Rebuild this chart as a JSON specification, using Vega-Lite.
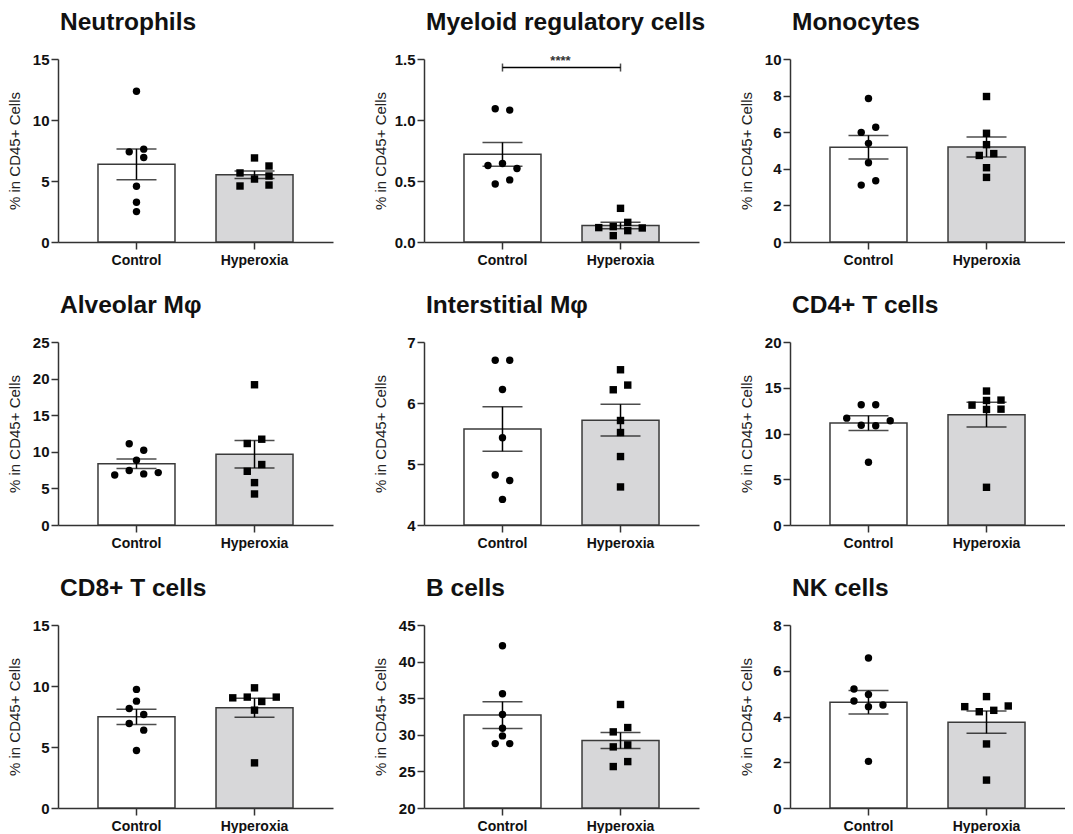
{
"$schema": "https://vega.github.io/schema/vega-lite/v6.json",
"background": "white",
"padding": {"left": 7, "top": 9, "right": 0, "bottom": 0},
"datasets": {
"cells": [
{"p":"Neutrophils","g":"Control","v":12.35,"lane":0},{"p":"Neutrophils","g":"Control","v":7.39,"lane":-1},{"p":"Neutrophils","g":"Control","v":7.61,"lane":1},{"p":"Neutrophils","g":"Control","v":6.93,"lane":1},{"p":"Neutrophils","g":"Control","v":4.57,"lane":0},{"p":"Neutrophils","g":"Control","v":3.26,"lane":0},{"p":"Neutrophils","g":"Control","v":2.49,"lane":0},
{"p":"Neutrophils","g":"Hyperoxia","v":6.89,"lane":0},{"p":"Neutrophils","g":"Hyperoxia","v":5.66,"lane":-2},{"p":"Neutrophils","g":"Hyperoxia","v":6.23,"lane":2},{"p":"Neutrophils","g":"Hyperoxia","v":5.16,"lane":0},{"p":"Neutrophils","g":"Hyperoxia","v":4.59,"lane":-2},{"p":"Neutrophils","g":"Hyperoxia","v":5.41,"lane":2},{"p":"Neutrophils","g":"Hyperoxia","v":4.67,"lane":2},
{"p":"Myeloid","g":"Control","v":1.092,"lane":-1},{"p":"Myeloid","g":"Control","v":1.081,"lane":1},{"p":"Myeloid","g":"Control","v":0.627,"lane":-2},{"p":"Myeloid","g":"Control","v":0.643,"lane":0},{"p":"Myeloid","g":"Control","v":0.602,"lane":2},{"p":"Myeloid","g":"Control","v":0.476,"lane":-1},{"p":"Myeloid","g":"Control","v":0.509,"lane":1},
{"p":"Myeloid","g":"Hyperoxia","v":0.276,"lane":0},{"p":"Myeloid","g":"Hyperoxia","v":0.118,"lane":-3},{"p":"Myeloid","g":"Hyperoxia","v":0.126,"lane":-1},{"p":"Myeloid","g":"Hyperoxia","v":0.161,"lane":1},{"p":"Myeloid","g":"Hyperoxia","v":0.115,"lane":3},{"p":"Myeloid","g":"Hyperoxia","v":0.052,"lane":-1},{"p":"Myeloid","g":"Hyperoxia","v":0.093,"lane":1},
{"p":"Monocytes","g":"Control","v":7.84,"lane":0},{"p":"Monocytes","g":"Control","v":5.99,"lane":-1},{"p":"Monocytes","g":"Control","v":6.27,"lane":1},{"p":"Monocytes","g":"Control","v":5.39,"lane":0},{"p":"Monocytes","g":"Control","v":4.33,"lane":0},{"p":"Monocytes","g":"Control","v":3.11,"lane":-1},{"p":"Monocytes","g":"Control","v":3.35,"lane":1},
{"p":"Monocytes","g":"Hyperoxia","v":7.95,"lane":0},{"p":"Monocytes","g":"Hyperoxia","v":5.94,"lane":0},{"p":"Monocytes","g":"Hyperoxia","v":5.32,"lane":0},{"p":"Monocytes","g":"Hyperoxia","v":4.73,"lane":-1},{"p":"Monocytes","g":"Hyperoxia","v":4.83,"lane":1},{"p":"Monocytes","g":"Hyperoxia","v":4.06,"lane":0},{"p":"Monocytes","g":"Hyperoxia","v":3.53,"lane":0},
{"p":"Alveolar","g":"Control","v":11.09,"lane":-1},{"p":"Alveolar","g":"Control","v":10.22,"lane":1},{"p":"Alveolar","g":"Control","v":8.85,"lane":0},{"p":"Alveolar","g":"Control","v":6.84,"lane":-3},{"p":"Alveolar","g":"Control","v":7.44,"lane":-1},{"p":"Alveolar","g":"Control","v":6.98,"lane":1},{"p":"Alveolar","g":"Control","v":7.16,"lane":3},
{"p":"Alveolar","g":"Hyperoxia","v":19.16,"lane":0},{"p":"Alveolar","g":"Hyperoxia","v":11.13,"lane":-1},{"p":"Alveolar","g":"Hyperoxia","v":11.72,"lane":1},{"p":"Alveolar","g":"Hyperoxia","v":8.26,"lane":1},{"p":"Alveolar","g":"Hyperoxia","v":7.34,"lane":-1},{"p":"Alveolar","g":"Hyperoxia","v":5.79,"lane":0},{"p":"Alveolar","g":"Hyperoxia","v":4.24,"lane":0},
{"p":"Interstitial","g":"Control","v":6.70,"lane":-1},{"p":"Interstitial","g":"Control","v":6.70,"lane":1},{"p":"Interstitial","g":"Control","v":6.22,"lane":0},{"p":"Interstitial","g":"Control","v":5.43,"lane":0},{"p":"Interstitial","g":"Control","v":4.82,"lane":-1},{"p":"Interstitial","g":"Control","v":4.73,"lane":1},{"p":"Interstitial","g":"Control","v":4.42,"lane":0},
{"p":"Interstitial","g":"Hyperoxia","v":6.545,"lane":0},{"p":"Interstitial","g":"Hyperoxia","v":6.217,"lane":-1},{"p":"Interstitial","g":"Hyperoxia","v":6.294,"lane":1},{"p":"Interstitial","g":"Hyperoxia","v":5.713,"lane":0},{"p":"Interstitial","g":"Hyperoxia","v":5.516,"lane":0},{"p":"Interstitial","g":"Hyperoxia","v":5.122,"lane":0},{"p":"Interstitial","g":"Hyperoxia","v":4.624,"lane":0},
{"p":"CD4","g":"Control","v":13.14,"lane":-1},{"p":"CD4","g":"Control","v":13.14,"lane":1},{"p":"CD4","g":"Control","v":11.68,"lane":-3},{"p":"CD4","g":"Control","v":10.91,"lane":-1},{"p":"CD4","g":"Control","v":10.84,"lane":1},{"p":"CD4","g":"Control","v":11.39,"lane":3},{"p":"CD4","g":"Control","v":6.86,"lane":0},
{"p":"CD4","g":"Hyperoxia","v":14.64,"lane":0},{"p":"CD4","g":"Hyperoxia","v":13.10,"lane":-2},{"p":"CD4","g":"Hyperoxia","v":13.61,"lane":0},{"p":"CD4","g":"Hyperoxia","v":13.65,"lane":2},{"p":"CD4","g":"Hyperoxia","v":12.63,"lane":0},{"p":"CD4","g":"Hyperoxia","v":12.66,"lane":2},{"p":"CD4","g":"Hyperoxia","v":4.12,"lane":0},
{"p":"CD8","g":"Control","v":9.72,"lane":0},{"p":"CD8","g":"Control","v":8.76,"lane":0},{"p":"CD8","g":"Control","v":8.16,"lane":-1},{"p":"CD8","g":"Control","v":7.66,"lane":1},{"p":"CD8","g":"Control","v":6.93,"lane":-1},{"p":"CD8","g":"Control","v":6.38,"lane":1},{"p":"CD8","g":"Control","v":4.71,"lane":0},
{"p":"CD8","g":"Hyperoxia","v":9.85,"lane":0},{"p":"CD8","g":"Hyperoxia","v":9.03,"lane":-3},{"p":"CD8","g":"Hyperoxia","v":9.09,"lane":-1},{"p":"CD8","g":"Hyperoxia","v":8.73,"lane":1},{"p":"CD8","g":"Hyperoxia","v":9.09,"lane":3},{"p":"CD8","g":"Hyperoxia","v":8.02,"lane":0},{"p":"CD8","g":"Hyperoxia","v":3.70,"lane":0},
{"p":"B","g":"Control","v":42.17,"lane":0},{"p":"B","g":"Control","v":35.6,"lane":0},{"p":"B","g":"Control","v":32.77,"lane":0},{"p":"B","g":"Control","v":30.9,"lane":0},{"p":"B","g":"Control","v":29.85,"lane":0},{"p":"B","g":"Control","v":28.8,"lane":-1},{"p":"B","g":"Control","v":28.8,"lane":1},
{"p":"B","g":"Hyperoxia","v":34.14,"lane":0},{"p":"B","g":"Hyperoxia","v":30.40,"lane":-1},{"p":"B","g":"Hyperoxia","v":30.99,"lane":1},{"p":"B","g":"Hyperoxia","v":28.35,"lane":-1},{"p":"B","g":"Hyperoxia","v":28.62,"lane":1},{"p":"B","g":"Hyperoxia","v":25.66,"lane":-1},{"p":"B","g":"Hyperoxia","v":26.34,"lane":1},
{"p":"NK","g":"Control","v":6.56,"lane":0},{"p":"NK","g":"Control","v":5.20,"lane":-2},{"p":"NK","g":"Control","v":4.96,"lane":0},{"p":"NK","g":"Control","v":4.68,"lane":-2},{"p":"NK","g":"Control","v":4.43,"lane":0},{"p":"NK","g":"Control","v":4.50,"lane":2},{"p":"NK","g":"Control","v":2.04,"lane":0},
{"p":"NK","g":"Hyperoxia","v":4.87,"lane":0},{"p":"NK","g":"Hyperoxia","v":4.43,"lane":-3},{"p":"NK","g":"Hyperoxia","v":4.21,"lane":-1},{"p":"NK","g":"Hyperoxia","v":4.27,"lane":1},{"p":"NK","g":"Hyperoxia","v":4.46,"lane":3},{"p":"NK","g":"Hyperoxia","v":2.80,"lane":0},{"p":"NK","g":"Hyperoxia","v":1.22,"lane":0}
],
"sig": [{"p":"Myeloid","from":"Control","to":"Hyperoxia","y":1.43,"label":"****"}]
},
"data": {"name": "cells"},
"columns": 3,
"bounds": "flush",
"spacing": {"row": 100, "column": 91},
"concat": [
{"title":"Neutrophils","width":275,"height":183,
 "transform":[{"filter":{"field":"p","equal":"Neutrophils"}}],
 "encoding":{"x":{"field":"g","type":"nominal","sort":["Control","Hyperoxia"],"scale":{"paddingInner":0.35,"paddingOuter":0.34},"axis":{"title":null,"labelAngle":0}}},
 "layer":[
  {"mark":{"type":"bar","stroke":"#3a3a3a","strokeWidth":1.5,"clip":true,"width":77},"encoding":{"y":{"aggregate":"mean","field":"v","type":"quantitative","title":"% in CD45+ Cells","scale":{"domain":[0,15],"nice":false},"axis":{"values":[0,5,10,15],"tickCount":20,"format":"d","labelOverlap":false}},"color":{"field":"g","type":"nominal","scale":{"domain":["Control","Hyperoxia"],"range":["#ffffff","#d7d7d9"]},"legend":null}}},
  {"mark":{"type":"point","filled":true,"size":55,"opacity":1,"color":"black"},"encoding":{"y":{"field":"v","type":"quantitative","title":"% in CD45+ Cells"},"shape":{"field":"g","type":"nominal","scale":{"domain":["Control","Hyperoxia"],"range":["circle","square"]},"legend":null},"xOffset":{"field":"lane","type":"quantitative","scale":{"domain":[-4,4],"range":[9.35,67.35]}}}},
  {"mark":{"type":"errorbar","extent":"stderr","color":"black","thickness":1.5,"size":40,"ticks":true},"encoding":{"y":{"field":"v","type":"quantitative","title":"% in CD45+ Cells"}}}
 ]},
{"title":"Myeloid regulatory cells","width":275,"height":183,
 "encoding":{"x":{"field":"g","type":"nominal","sort":["Control","Hyperoxia"],"scale":{"paddingInner":0.35,"paddingOuter":0.34},"axis":{"title":null,"labelAngle":0}}},
 "layer":[
  {"transform":[{"filter":{"field":"p","equal":"Myeloid"}}],"mark":{"type":"bar","stroke":"#3a3a3a","strokeWidth":1.5,"clip":true,"width":77},"encoding":{"y":{"aggregate":"mean","field":"v","type":"quantitative","title":"% in CD45+ Cells","scale":{"domain":[0,1.5],"nice":false},"axis":{"values":[0,0.5,1,1.5],"tickCount":20,"format":".1f","labelOverlap":false}},"color":{"field":"g","type":"nominal","scale":{"domain":["Control","Hyperoxia"],"range":["#ffffff","#d7d7d9"]},"legend":null}}},
  {"transform":[{"filter":{"field":"p","equal":"Myeloid"}}],"mark":{"type":"point","filled":true,"size":55,"opacity":1,"color":"black"},"encoding":{"y":{"field":"v","type":"quantitative","title":"% in CD45+ Cells"},"shape":{"field":"g","type":"nominal","scale":{"domain":["Control","Hyperoxia"],"range":["circle","square"]},"legend":null},"xOffset":{"field":"lane","type":"quantitative","scale":{"domain":[-4,4],"range":[9.35,67.35]}}}},
  {"transform":[{"filter":{"field":"p","equal":"Myeloid"}}],"mark":{"type":"errorbar","extent":"stderr","color":"black","thickness":1.5,"size":40,"ticks":true},"encoding":{"y":{"field":"v","type":"quantitative","title":"% in CD45+ Cells"}}},
  {"data":{"name":"sig"},"mark":{"type":"rule","color":"black","strokeWidth":1.5},"encoding":{"x":{"field":"from","type":"nominal"},"x2":{"field":"to"},"y":{"field":"y","type":"quantitative","title":"% in CD45+ Cells"}}},
  {"data":{"name":"sig"},"transform":[{"fold":["from","to"],"as":["k","gx"]}],"mark":{"type":"tick","orient":"vertical","size":8,"thickness":1.5,"color":"black"},"encoding":{"x":{"field":"gx","type":"nominal"},"y":{"field":"y","type":"quantitative","title":"% in CD45+ Cells"}}},
  {"data":{"name":"sig"},"mark":{"type":"text","dx":58,"dy":-7,"fontSize":13,"fontWeight":"bold","color":"#333"},"encoding":{"x":{"field":"from","type":"nominal"},"y":{"field":"y","type":"quantitative","title":"% in CD45+ Cells"},"text":{"field":"label"}}}
 ]},
{"title":"Monocytes","width":275,"height":183,
 "transform":[{"filter":{"field":"p","equal":"Monocytes"}}],
 "encoding":{"x":{"field":"g","type":"nominal","sort":["Control","Hyperoxia"],"scale":{"paddingInner":0.35,"paddingOuter":0.34},"axis":{"title":null,"labelAngle":0}}},
 "layer":[
  {"mark":{"type":"bar","stroke":"#3a3a3a","strokeWidth":1.5,"clip":true,"width":77},"encoding":{"y":{"aggregate":"mean","field":"v","type":"quantitative","title":"% in CD45+ Cells","scale":{"domain":[0,10],"nice":false},"axis":{"values":[0,2,4,6,8,10],"tickCount":20,"format":"d","labelOverlap":false}},"color":{"field":"g","type":"nominal","scale":{"domain":["Control","Hyperoxia"],"range":["#ffffff","#d7d7d9"]},"legend":null}}},
  {"mark":{"type":"point","filled":true,"size":55,"opacity":1,"color":"black"},"encoding":{"y":{"field":"v","type":"quantitative","title":"% in CD45+ Cells"},"shape":{"field":"g","type":"nominal","scale":{"domain":["Control","Hyperoxia"],"range":["circle","square"]},"legend":null},"xOffset":{"field":"lane","type":"quantitative","scale":{"domain":[-4,4],"range":[9.35,67.35]}}}},
  {"mark":{"type":"errorbar","extent":"stderr","color":"black","thickness":1.5,"size":40,"ticks":true},"encoding":{"y":{"field":"v","type":"quantitative","title":"% in CD45+ Cells"}}}
 ]},
{"title":"Alveolar Mφ","width":275,"height":183,
 "transform":[{"filter":{"field":"p","equal":"Alveolar"}}],
 "encoding":{"x":{"field":"g","type":"nominal","sort":["Control","Hyperoxia"],"scale":{"paddingInner":0.35,"paddingOuter":0.34},"axis":{"title":null,"labelAngle":0}}},
 "layer":[
  {"mark":{"type":"bar","stroke":"#3a3a3a","strokeWidth":1.5,"clip":true,"width":77},"encoding":{"y":{"aggregate":"mean","field":"v","type":"quantitative","title":"% in CD45+ Cells","scale":{"domain":[0,25],"nice":false},"axis":{"values":[0,5,10,15,20,25],"tickCount":20,"format":"d","labelOverlap":false}},"color":{"field":"g","type":"nominal","scale":{"domain":["Control","Hyperoxia"],"range":["#ffffff","#d7d7d9"]},"legend":null}}},
  {"mark":{"type":"point","filled":true,"size":55,"opacity":1,"color":"black"},"encoding":{"y":{"field":"v","type":"quantitative","title":"% in CD45+ Cells"},"shape":{"field":"g","type":"nominal","scale":{"domain":["Control","Hyperoxia"],"range":["circle","square"]},"legend":null},"xOffset":{"field":"lane","type":"quantitative","scale":{"domain":[-4,4],"range":[9.35,67.35]}}}},
  {"mark":{"type":"errorbar","extent":"stderr","color":"black","thickness":1.5,"size":40,"ticks":true},"encoding":{"y":{"field":"v","type":"quantitative","title":"% in CD45+ Cells"}}}
 ]},
{"title":"Interstitial Mφ","width":275,"height":183,
 "transform":[{"filter":{"field":"p","equal":"Interstitial"}}],
 "encoding":{"x":{"field":"g","type":"nominal","sort":["Control","Hyperoxia"],"scale":{"paddingInner":0.35,"paddingOuter":0.34},"axis":{"title":null,"labelAngle":0}}},
 "layer":[
  {"mark":{"type":"bar","stroke":"#3a3a3a","strokeWidth":1.5,"clip":true,"width":77},"encoding":{"y":{"aggregate":"mean","field":"v","type":"quantitative","title":"% in CD45+ Cells","scale":{"domain":[4,7],"nice":false,"zero":false},"axis":{"values":[4,5,6,7],"tickCount":20,"format":"d","labelOverlap":false}},"color":{"field":"g","type":"nominal","scale":{"domain":["Control","Hyperoxia"],"range":["#ffffff","#d7d7d9"]},"legend":null}}},
  {"mark":{"type":"point","filled":true,"size":55,"opacity":1,"color":"black"},"encoding":{"y":{"field":"v","type":"quantitative","title":"% in CD45+ Cells"},"shape":{"field":"g","type":"nominal","scale":{"domain":["Control","Hyperoxia"],"range":["circle","square"]},"legend":null},"xOffset":{"field":"lane","type":"quantitative","scale":{"domain":[-4,4],"range":[9.35,67.35]}}}},
  {"mark":{"type":"errorbar","extent":"stderr","color":"black","thickness":1.5,"size":40,"ticks":true},"encoding":{"y":{"field":"v","type":"quantitative","title":"% in CD45+ Cells"}}}
 ]},
{"title":"CD4+ T cells","width":275,"height":183,
 "transform":[{"filter":{"field":"p","equal":"CD4"}}],
 "encoding":{"x":{"field":"g","type":"nominal","sort":["Control","Hyperoxia"],"scale":{"paddingInner":0.35,"paddingOuter":0.34},"axis":{"title":null,"labelAngle":0}}},
 "layer":[
  {"mark":{"type":"bar","stroke":"#3a3a3a","strokeWidth":1.5,"clip":true,"width":77},"encoding":{"y":{"aggregate":"mean","field":"v","type":"quantitative","title":"% in CD45+ Cells","scale":{"domain":[0,20],"nice":false},"axis":{"values":[0,5,10,15,20],"tickCount":20,"format":"d","labelOverlap":false}},"color":{"field":"g","type":"nominal","scale":{"domain":["Control","Hyperoxia"],"range":["#ffffff","#d7d7d9"]},"legend":null}}},
  {"mark":{"type":"point","filled":true,"size":55,"opacity":1,"color":"black"},"encoding":{"y":{"field":"v","type":"quantitative","title":"% in CD45+ Cells"},"shape":{"field":"g","type":"nominal","scale":{"domain":["Control","Hyperoxia"],"range":["circle","square"]},"legend":null},"xOffset":{"field":"lane","type":"quantitative","scale":{"domain":[-4,4],"range":[9.35,67.35]}}}},
  {"mark":{"type":"errorbar","extent":"stderr","color":"black","thickness":1.5,"size":40,"ticks":true},"encoding":{"y":{"field":"v","type":"quantitative","title":"% in CD45+ Cells"}}}
 ]},
{"title":"CD8+ T cells","width":275,"height":183,
 "transform":[{"filter":{"field":"p","equal":"CD8"}}],
 "encoding":{"x":{"field":"g","type":"nominal","sort":["Control","Hyperoxia"],"scale":{"paddingInner":0.35,"paddingOuter":0.34},"axis":{"title":null,"labelAngle":0}}},
 "layer":[
  {"mark":{"type":"bar","stroke":"#3a3a3a","strokeWidth":1.5,"clip":true,"width":77},"encoding":{"y":{"aggregate":"mean","field":"v","type":"quantitative","title":"% in CD45+ Cells","scale":{"domain":[0,15],"nice":false},"axis":{"values":[0,5,10,15],"tickCount":20,"format":"d","labelOverlap":false}},"color":{"field":"g","type":"nominal","scale":{"domain":["Control","Hyperoxia"],"range":["#ffffff","#d7d7d9"]},"legend":null}}},
  {"mark":{"type":"point","filled":true,"size":55,"opacity":1,"color":"black"},"encoding":{"y":{"field":"v","type":"quantitative","title":"% in CD45+ Cells"},"shape":{"field":"g","type":"nominal","scale":{"domain":["Control","Hyperoxia"],"range":["circle","square"]},"legend":null},"xOffset":{"field":"lane","type":"quantitative","scale":{"domain":[-4,4],"range":[9.35,67.35]}}}},
  {"mark":{"type":"errorbar","extent":"stderr","color":"black","thickness":1.5,"size":40,"ticks":true},"encoding":{"y":{"field":"v","type":"quantitative","title":"% in CD45+ Cells"}}}
 ]},
{"title":"B cells","width":275,"height":183,
 "transform":[{"filter":{"field":"p","equal":"B"}}],
 "encoding":{"x":{"field":"g","type":"nominal","sort":["Control","Hyperoxia"],"scale":{"paddingInner":0.35,"paddingOuter":0.34},"axis":{"title":null,"labelAngle":0}}},
 "layer":[
  {"mark":{"type":"bar","stroke":"#3a3a3a","strokeWidth":1.5,"clip":true,"width":77},"encoding":{"y":{"aggregate":"mean","field":"v","type":"quantitative","title":"% in CD45+ Cells","scale":{"domain":[20,45],"nice":false,"zero":false},"axis":{"values":[20,25,30,35,40,45],"tickCount":20,"format":"d","labelOverlap":false}},"color":{"field":"g","type":"nominal","scale":{"domain":["Control","Hyperoxia"],"range":["#ffffff","#d7d7d9"]},"legend":null}}},
  {"mark":{"type":"point","filled":true,"size":55,"opacity":1,"color":"black"},"encoding":{"y":{"field":"v","type":"quantitative","title":"% in CD45+ Cells"},"shape":{"field":"g","type":"nominal","scale":{"domain":["Control","Hyperoxia"],"range":["circle","square"]},"legend":null},"xOffset":{"field":"lane","type":"quantitative","scale":{"domain":[-4,4],"range":[9.35,67.35]}}}},
  {"mark":{"type":"errorbar","extent":"stderr","color":"black","thickness":1.5,"size":40,"ticks":true},"encoding":{"y":{"field":"v","type":"quantitative","title":"% in CD45+ Cells"}}}
 ]},
{"title":"NK cells","width":275,"height":183,
 "transform":[{"filter":{"field":"p","equal":"NK"}}],
 "encoding":{"x":{"field":"g","type":"nominal","sort":["Control","Hyperoxia"],"scale":{"paddingInner":0.35,"paddingOuter":0.34},"axis":{"title":null,"labelAngle":0}}},
 "layer":[
  {"mark":{"type":"bar","stroke":"#3a3a3a","strokeWidth":1.5,"clip":true,"width":77},"encoding":{"y":{"aggregate":"mean","field":"v","type":"quantitative","title":"% in CD45+ Cells","scale":{"domain":[0,8],"nice":false},"axis":{"values":[0,2,4,6,8],"tickCount":20,"format":"d","labelOverlap":false}},"color":{"field":"g","type":"nominal","scale":{"domain":["Control","Hyperoxia"],"range":["#ffffff","#d7d7d9"]},"legend":null}}},
  {"mark":{"type":"point","filled":true,"size":55,"opacity":1,"color":"black"},"encoding":{"y":{"field":"v","type":"quantitative","title":"% in CD45+ Cells"},"shape":{"field":"g","type":"nominal","scale":{"domain":["Control","Hyperoxia"],"range":["circle","square"]},"legend":null},"xOffset":{"field":"lane","type":"quantitative","scale":{"domain":[-4,4],"range":[9.35,67.35]}}}},
  {"mark":{"type":"errorbar","extent":"stderr","color":"black","thickness":1.5,"size":40,"ticks":true},"encoding":{"y":{"field":"v","type":"quantitative","title":"% in CD45+ Cells"}}}
 ]}
],
"config": {
 "font": "Liberation Sans",
 "view": {"stroke": null},
 "axis": {"domainColor": "#333333", "domainWidth": 1.5, "tickColor": "#333333", "tickWidth": 1.5, "tickSize": 7, "labelFont": "Liberation Sans", "labelFontWeight": "bold", "labelFontSize": 14, "labelColor": "#111111", "labelOverlap": false, "grid": false, "titleFont": "Liberation Sans", "titleFontWeight": "normal", "titleFontSize": 15, "titleColor": "#222222"},
 "axisX": {"labelPadding": 4, "labelAngle": 0},
 "axisY": {"labelPadding": 2, "labelFontSize": 15, "minExtent": 30, "maxExtent": 30, "titlePadding": 6},
 "title": {"anchor": "start", "frame": "group", "font": "Liberation Sans", "fontSize": 24.5, "fontWeight": "bold", "color": "#111111", "baseline": "alphabetic", "offset": 17, "dx": 2}
}
}
